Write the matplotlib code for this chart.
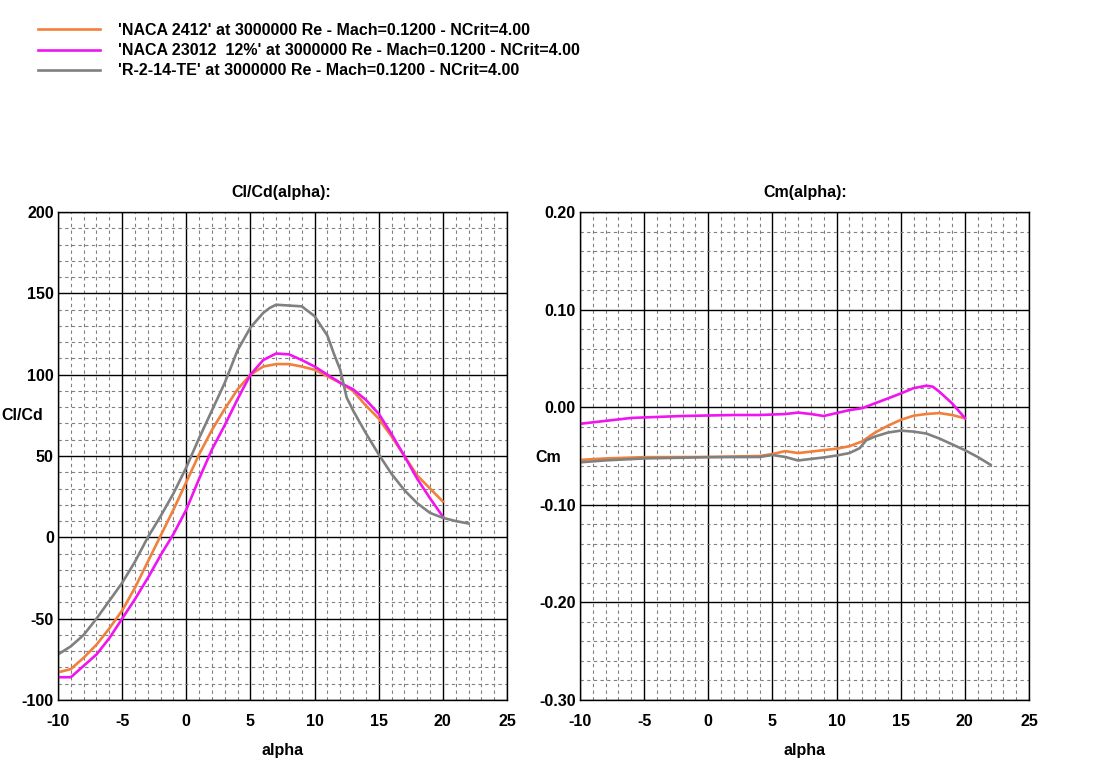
import numpy as np
import matplotlib.pyplot as plt
from matplotlib.ticker import MultipleLocator, FixedLocator

plt.rcParams['font.family'] = ['Liberation Sans', 'DejaVu Sans']
plt.rcParams['font.weight'] = 'bold'
plt.rcParams['font.size'] = 11.5
plt.rcParams['axes.unicode_minus'] = False

# Legendas das curvas
nomes = ["'NACA 2412' at 3000000 Re - Mach=0.1200 - NCrit=4.00",
         "'NACA 23012  12%' at 3000000 Re - Mach=0.1200 - NCrit=4.00",
         "'R-2-14-TE' at 3000000 Re - Mach=0.1200 - NCrit=4.00"]
cores = ['#f0803c', '#f014f0', '#808080']

# Cl/Cd (alpha)
a_2412_cd = [-10, -9, -8, -7, -6, -5, -4, -3, -2, -1, 0, 1, 2, 3, 4, 5, 6, 7, 8, 9, 10,
             11, 12, 13, 14, 15, 16, 17, 18, 19, 20]
clcd_2412 = [-83, -81, -74, -66, -56, -45, -31, -15, 1, 17, 34, 51, 66, 79, 91, 100, 105,
             106.5, 106.5, 105, 103, 99, 95, 90, 81, 73, 62, 50, 38, 30, 22]

a_23012_cd = [-10, -9, -8, -7, -6, -5, -4, -3, -2, -1, 0, 1, 2, 3, 4, 5, 6, 7, 8, 9, 10,
              11, 12, 13, 14, 15, 16, 17, 18, 19, 20]
clcd_23012 = [-86, -86, -79, -72, -62, -50, -38, -25, -11, 2, 17, 36, 54, 69, 85, 100, 109,
              113, 112.5, 109, 105, 100, 95, 91, 84.5, 76, 63.5, 50, 36, 24, 12.7]

a_r214_cd = [-10, -9, -8, -7, -6, -5, -4, -3, -2, -1, 0, 1, 2, 3, 4, 5, 6, 6.5, 7, 8, 9,
             10, 11, 11.5, 12, 12.5, 13, 14, 15, 16, 17, 18, 19, 20, 21, 22]
clcd_r214 = [-72, -67, -60, -50, -39, -28, -15, 0, 13, 27, 43, 61, 78, 95, 115, 129, 138,
             141, 143, 142.5, 142, 136, 124, 113, 103, 86, 78, 64, 51, 39, 29, 21, 15, 12,
             10, 8.5]

# Cm (alpha)
a_2412_cm = [-10, -8, -5, 0, 4, 5, 6, 7, 8, 9, 10, 11, 12, 13, 14, 15, 16, 17, 18, 19, 20]
cm_2412 = [-0.054, -0.0525, -0.0512, -0.051, -0.050, -0.048, -0.045, -0.047, -0.0455,
           -0.044, -0.0425, -0.040, -0.035, -0.026, -0.019, -0.013, -0.0087, -0.007,
           -0.006, -0.008, -0.0113]

a_23012_cm = [-10, -8, -6, -4, -2, 0, 2, 4, 6, 7, 8, 9, 10, 11, 12, 13, 14, 15, 16, 17,
              17.5, 18, 19, 20]
cm_23012 = [-0.017, -0.014, -0.011, -0.010, -0.009, -0.0085, -0.008, -0.008, -0.007,
            -0.0055, -0.007, -0.009, -0.006, -0.003, -0.001, 0.004, 0.009, 0.014, 0.0195,
            0.022, 0.021, 0.016, 0.004, -0.011]

a_r214_cm = [-10, -8, -5, 0, 4, 5, 6, 7, 8, 9, 10, 11, 11.8, 12.3, 13, 14, 15, 16, 17,
             18, 19, 20, 21, 22]
cm_r214 = [-0.0565, -0.0545, -0.0525, -0.0512, -0.051, -0.049, -0.051, -0.0546, -0.053,
           -0.0515, -0.0495, -0.047, -0.042, -0.034, -0.030, -0.026, -0.024, -0.025,
           -0.027, -0.032, -0.038, -0.044, -0.051, -0.059]

W, H = 1120, 779
fig = plt.figure(figsize=(W / 100, H / 100), dpi=100)

def caixa(x0, x1, y0, y1):
    return [x0 / W, 1 - y1 / H, (x1 - x0) / W, (y1 - y0) / H]

ax1 = fig.add_axes(caixa(58, 507, 212, 700))
ax2 = fig.add_axes(caixa(580, 1029, 212, 700))

for a, v, c in zip([a_2412_cd, a_23012_cd, a_r214_cd], [clcd_2412, clcd_23012, clcd_r214], cores):
    ax1.plot(a, v, color=c, lw=1.9)
linhas = []
for a, v, c in zip([a_2412_cm, a_23012_cm, a_r214_cm], [cm_2412, cm_23012, cm_r214], cores):
    l, = ax2.plot(a, v, color=c, lw=1.9)
    linhas.append(l)

ax1.set_xlim(-10, 25)
ax1.set_ylim(-100, 200)
ax1.xaxis.set_major_locator(MultipleLocator(5))
ax1.xaxis.set_minor_locator(MultipleLocator(1))
ax1.yaxis.set_major_locator(MultipleLocator(50))
ax1.yaxis.set_minor_locator(MultipleLocator(10))

ax2.set_xlim(-10, 25)
ax2.set_ylim(-0.3, 0.2)
ax2.xaxis.set_major_locator(MultipleLocator(5))
ax2.xaxis.set_minor_locator(MultipleLocator(1))
ax2.yaxis.set_major_locator(FixedLocator([-0.3, -0.2, -0.1, 0.0, 0.1, 0.2]))
ax2.yaxis.set_minor_locator(MultipleLocator(0.02))
ax2.yaxis.set_major_formatter(lambda v, p: f'{v:.2f}' if abs(v) > 1e-9 else '0.00')

for ax in (ax1, ax2):
    ax.set_axisbelow(True)
    ax.grid(True, which='major', color='black', lw=1.0)
    ax.grid(True, which='minor', color='#808080', lw=0.8, linestyle=(0, (3, 3)))
    ax.tick_params(which='both', length=0)
    ax.tick_params(axis='x', pad=10)
    ax.tick_params(axis='y', pad=3)
    for s in ax.spines.values():
        s.set_color('black')
        s.set_linewidth(1.0)

# Títulos e rótulos
fig.text(281 / W, 1 - 193 / H, 'Cl/Cd(alpha):', ha='center', va='center')
fig.text(805 / W, 1 - 193 / H, 'Cm(alpha):', ha='center', va='center')
fig.text(22 / W, 1 - 416 / H, 'Cl/Cd', ha='center', va='center')
fig.text(548 / W, 1 - 458 / H, 'Cm', ha='center', va='center')
fig.text(283 / W, 1 - 751 / H, 'alpha', ha='center', va='center')
fig.text(805 / W, 1 - 751 / H, 'alpha', ha='center', va='center')

fig.legend(linhas, nomes, loc='upper left', bbox_to_anchor=(38 / W, 1 - 23 / H),
           frameon=False, borderpad=0, borderaxespad=0, handlelength=3.9,
           handletextpad=1.1, labelspacing=0.32)

fig.savefig('out.png', dpi=100)
